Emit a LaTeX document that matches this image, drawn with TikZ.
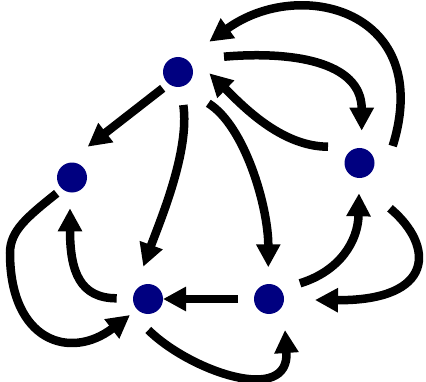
\documentclass[tikz,border=0pt]{standalone}
\usepackage{tikz}
\usetikzlibrary{positioning,arrows.meta}
\definecolor{navy}{RGB}{0,0,128}

\begin{document}
\begin{tikzpicture}[x=1pt, y=1pt, node distance=90.6pt,
  vertex/.style={circle, fill=navy, inner sep=0pt, minimum size=30pt},
  edge/.style={line width=8.5pt, -{Triangle[length=23pt, width=23pt]}}]
\useasboundingbox (0,0) rectangle (426,381);
\node[vertex] (apex) at (178,309) {};
\node[vertex] (lside) at (72,203.5) {};
\node[vertex] (bleft) at (148,82) {};
\node[vertex, right=of bleft] (bright) {};
\node[vertex] (rside) at (359.5,218) {};
% from the apex
\draw[edge] ([shift={(-15.3,-16.3)}]apex.center) -- ([shift={(15.7,30.8)}]lside.center);
\draw[edge] ([shift={(5.3,-33)}]apex.center) .. controls +(6.7,-46) and +(16.7,45.7) .. ([shift={(-4.7,32.3)}]bleft.center);
\draw[edge] ([shift={(30.3,-31.3)}]apex.center) .. controls +(36.7,-22.7) and +(0,60) .. ([shift={(-0.7,31.7)}]bright.center);
\draw[edge] ([shift={(46,15.3)}]apex.center) .. controls +(66,5.7) and +(0,70) .. ([shift={(2.2,32.3)}]rside.center);
% back to the apex
\draw[edge] ([shift={(-31.5,16.3)}]rside.center) .. controls +(-48,0) and +(31,-30) .. ([shift={(31.3,-1.3)}]apex.center);
\draw[edge] ([shift={(33.2,17)}]rside.center) .. controls +(42,135) and +(91,66) .. ([shift={(31.3,30.3)}]apex.center);
% lower ring
\draw[edge] ([shift={(-31,0)}]bright.center) -- ([shift={(15,0)}]bleft.center);
\draw[edge] ([shift={(-31.3,0.7)}]bleft.center) .. controls +(-37,0) and +(0,-63) .. ([shift={(-2,-30.8)}]lside.center);
\draw[edge] ([shift={(-15.3,-15.8)}]lside.center) .. controls +(-30,-24) and +(0,22) .. ++(-46.7,-59.7) .. controls +(0,-88) and +(-60,-46) .. ([shift={(-18,-16)}]bleft.center);
\draw[edge] ([shift={(0.3,-31)}]bleft.center) .. controls +(41.7,-41) and +(5,-76) .. ([shift={(16,-31)}]bright.center);
\draw[edge] ([shift={(31,15.7)}]bright.center) .. controls +(40,12.3) and +(-1,-47.7) .. ([shift={(-0.5,-30.3)}]rside.center);
\draw[edge] ([shift={(30.5,-45.3)}]rside.center) .. controls +(45,-37.7) and +(120,-1) .. ([shift={(46,-1)}]bright.center);
\end{tikzpicture}
\end{document}
